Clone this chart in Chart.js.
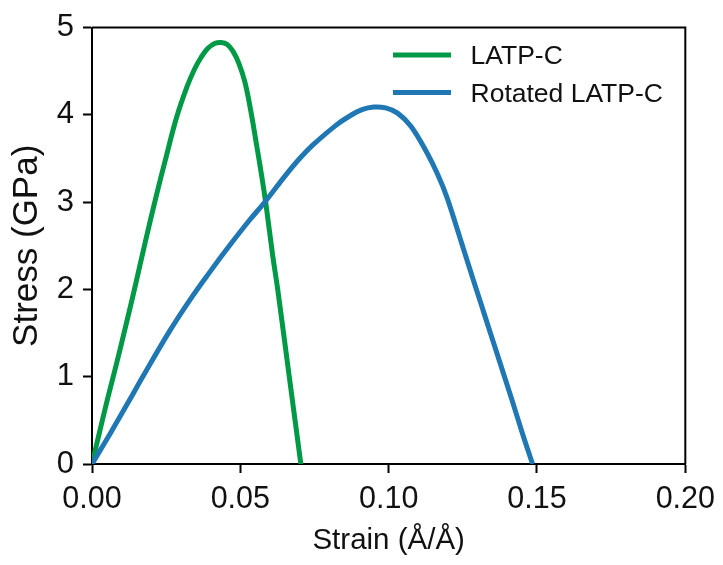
<!DOCTYPE html>
<html>
<head>
<meta charset="utf-8">
<script src="https://cdn.jsdelivr.net/npm/chart.js@4/dist/chart.umd.min.js"></script>
<style>
  html, body { margin: 0; padding: 0; background: #fff; }
  canvas { display: block; }
</style>
</head>
<body>
<canvas id="c" width="723" height="565"></canvas>
<script>
// ---- data ----
const seriesNames = ["LATP-C", "Rotated LATP-C"];
const seriesColors = ["#009a46", "#1f77b4"];

const latpStrain = [0, 0.0025, 0.0052, 0.0082, 0.0115, 0.0145, 0.0180, 0.0215, 0.0250, 0.0285, 0.0320, 0.0345, 0.0368, 0.0390, 0.0415, 0.0435, 0.0455, 0.0475, 0.0495, 0.0515, 0.0535, 0.0555, 0.0572, 0.0587, 0.0609, 0.0626, 0.0665, 0.0704];
const latpStress = [0, 0.36, 0.74, 1.14, 1.60, 2.03, 2.55, 3.05, 3.52, 3.97, 4.32, 4.52, 4.66, 4.76, 4.82, 4.83, 4.81, 4.73, 4.59, 4.38, 4.05, 3.65, 3.30, 2.96, 2.39, 2.00, 1.00, 0];

const rotStrain = [0, 0.0065, 0.0126, 0.0171, 0.0261, 0.0328, 0.0395, 0.0463, 0.0530, 0.0580, 0.0653, 0.0700, 0.0743, 0.0822, 0.0870, 0.0910, 0.0950, 0.0990, 0.1030, 0.1075, 0.1130, 0.1165, 0.1195, 0.1234, 0.1272, 0.1308, 0.1344, 0.1380, 0.1416, 0.1451, 0.1485];
const rotStress = [0, 0.37, 0.73, 1.00, 1.52, 1.87, 2.19, 2.50, 2.79, 2.99, 3.31, 3.50, 3.65, 3.88, 3.99, 4.06, 4.09, 4.08, 4.02, 3.87, 3.56, 3.32, 3.07, 2.66, 2.25, 1.87, 1.49, 1.11, 0.73, 0.35, 0];

const xTicks = [0, 0.05, 0.10, 0.15, 0.20];
const yTicks = [0, 1, 2, 3, 4, 5];
const xTitle = "Strain (Å/Å)";
const yTitle = "Stress (GPa)";

const toPts = (xs, ys) => xs.map((x, i) => ({ x: x, y: ys[i] }));

const FONT = "'Liberation Sans', Arial, Helvetica, sans-serif";

// frame (top/right spines) + in-axes legend
const framePlugin = {
  id: 'frame',
  afterDatasetsDraw(chart) {
    const { ctx, chartArea: a } = chart;
    ctx.save();
    ctx.strokeStyle = '#000';
    ctx.lineWidth = 2;
    ctx.beginPath();
    ctx.moveTo(a.left, a.top);
    ctx.lineTo(a.right, a.top);
    ctx.lineTo(a.right, a.bottom);
    ctx.stroke();
    ctx.restore();
  },
  afterDraw(chart) {
    const { ctx } = chart;
    const size = 26.5;
    const x0 = 393, x1 = 451, tx = 470.5;
    const rows = [55, 92.5];
    ctx.save();
    ctx.font = size + 'px ' + FONT;
    ctx.textAlign = 'left';
    ctx.textBaseline = 'alphabetic';
    chart.data.datasets.forEach((ds, i) => {
      const y = rows[i];
      ctx.strokeStyle = ds.borderColor;
      ctx.lineWidth = 5;
      ctx.lineCap = 'butt';
      ctx.beginPath();
      ctx.moveTo(x0, y);
      ctx.lineTo(x1, y);
      ctx.stroke();
      ctx.fillStyle = '#111';
      ctx.fillText(ds.label, tx, y + 0.716 * size / 2);
    });
    ctx.restore();
  }
};

new Chart(document.getElementById('c'), {
  type: 'scatter',
  data: {
    datasets: [
      { label: seriesNames[0], data: toPts(latpStrain, latpStress), showLine: true,
        borderColor: seriesColors[0], backgroundColor: seriesColors[0], borderWidth: 5,
        pointRadius: 0, tension: 0.4, borderJoinStyle: 'round', borderCapStyle: 'butt', order: 2 },
      { label: seriesNames[1], data: toPts(rotStrain, rotStress), showLine: true,
        borderColor: seriesColors[1], backgroundColor: seriesColors[1], borderWidth: 5,
        pointRadius: 0, tension: 0.4, borderJoinStyle: 'round', borderCapStyle: 'butt', order: 1 }
    ]
  },
  options: {
    responsive: false,
    animation: false,
    devicePixelRatio: 1,
    layout: { padding: { left: 0, top: 22, right: 36, bottom: 0 } },
    plugins: { legend: { display: false }, tooltip: { enabled: false } },
    scales: {
      x: {
        type: 'linear', min: 0, max: 0.2,
        afterBuildTicks(s) { s.ticks = xTicks.map(v => ({ value: v })); },
        afterFit(s) { s.height = 101; },
        border: { color: '#000', width: 2 },
        grid: { drawOnChartArea: false, tickLength: 9, tickColor: '#000', tickWidth: 2 },
        ticks: { color: '#111', padding: 8, maxRotation: 0, autoSkip: false,
          font: { family: FONT, size: 30.5 },
          callback: v => Number(v).toFixed(2) },
        title: { display: true, text: xTitle, color: '#111',
          font: { family: FONT, size: 29.5 }, padding: { top: 0, bottom: 6 } }
      },
      y: {
        type: 'linear', min: 0, max: 5,
        afterBuildTicks(s) { s.ticks = yTicks.map(v => ({ value: v })); },
        afterFit(s) { s.width = 92; },
        border: { color: '#000', width: 2 },
        grid: { drawOnChartArea: false, tickLength: 9, tickColor: '#000', tickWidth: 2 },
        ticks: { color: '#111', padding: 9, autoSkip: false,
          font: { family: FONT, size: 31 },
          callback: v => String(v) },
        title: { display: true, text: yTitle, color: '#111',
          font: { family: FONT, size: 35 }, padding: { top: 6, bottom: 0 } }
      }
    }
  },
  plugins: [framePlugin]
});
</script>
</body>
</html>
